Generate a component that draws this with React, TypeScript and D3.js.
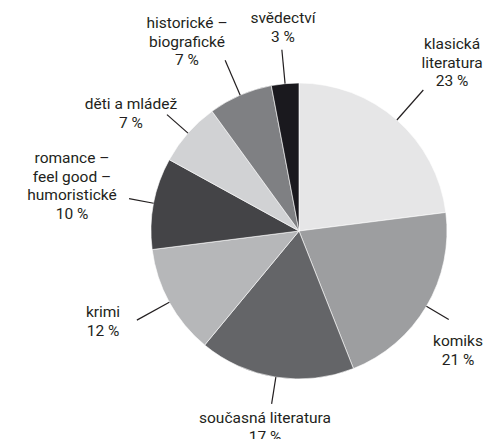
import { arc, pie, PieArcDatum } from 'd3'

const W = 487
const H = 439

// genres, clockwise from 12 o'clock
const genres = [
  ['klasická', 'literatura'],
  ['komiks'],
  ['současná literatura'],
  ['krimi'],
  ['romance –', 'feel good –', 'humoristické'],
  ['děti a mládež'],
  ['historické –', 'biografické'],
  ['svědectví'],
]
const shares = [23, 21, 17, 12, 10, 7, 7, 3]
const fills = ['#e6e6e7', '#9d9ea0', '#646568', '#b6b7b9', '#444447', '#d1d2d4', '#7f8083', '#1a191e']

// label placement: text centre x, first baseline y, end radius of the leader line
const labelX = [452, 458, 265, 103, 72, 131, 187, 283]
const labelY = [49, 346, 423, 317, 163, 109, 28, 23]
const leaderEnd = [188, 174, 175, 185, 173, 176, 186, 182]

const cx = 299
const cy = 231
const R = 148
const lineH = 18.5

interface Slice {
  name: string[]
  value: number
  ix: number
}

const data: Slice[] = shares.map((v, ix) => ({ name: genres[ix], value: v, ix }))

export default function App() {
  const arcs = pie<Slice>()
    .value(d => d.value)
    .sort(null)(data)
  const arcGen = arc<PieArcDatum<Slice>>().innerRadius(0).outerRadius(R)

  const pt = (a: number, r: number) => [cx + r * Math.sin(a), cy - r * Math.cos(a)]

  return (
    <svg
      width={W}
      height={H}
      style={{ position: 'absolute', left: 0, top: 0, background: '#fff' }}
      fontFamily='Roboto, sans-serif'
    >
      <g transform={`translate(${cx},${cy})`}>
        {arcs.map(a => (
          <path key={a.index} d={arcGen(a) ?? ''} fill={fills[a.index]} stroke='#fff' strokeWidth={0.6} />
        ))}
      </g>
      {arcs.map(a => {
        const mid = (a.startAngle + a.endAngle) / 2
        const [x1, y1] = pt(mid, R)
        const [x2, y2] = pt(mid, leaderEnd[a.index])
        const lines = [...a.data.name, `${a.data.value} %`]
        return (
          <g key={a.index}>
            <line x1={x1} y1={y1} x2={x2} y2={y2} stroke='#231f20' strokeWidth={1.2} />
            <text textAnchor='middle' fontSize={15.5} fill='#231f20'>
              {lines.map((l, i) => (
                <tspan key={i} x={labelX[a.index]} y={labelY[a.index] + i * lineH}>
                  {l}
                </tspan>
              ))}
            </text>
          </g>
        )
      })}
    </svg>
  )
}
